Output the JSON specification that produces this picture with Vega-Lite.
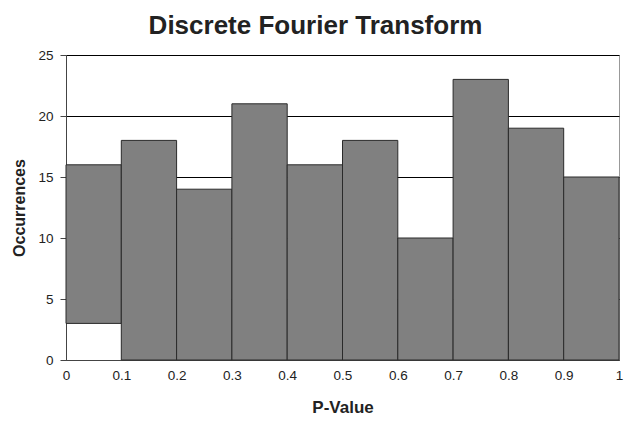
{
  "$schema": "https://vega.github.io/schema/vega-lite/v6.json",
  "width": 553,
  "height": 305,
  "autosize": {"type": "none"},
  "padding": {"left": 66, "top": 55, "right": 10, "bottom": 62},
  "background": "white",
  "title": {
    "text": "Discrete Fourier Transform",
    "font": "Liberation Sans",
    "fontSize": 26,
    "fontWeight": "bold",
    "color": "#222222",
    "anchor": "middle",
    "dx": -27,
    "offset": 9
  },
  "config": {
    "view": {"stroke": "#999999", "strokeWidth": 1},
    "axis": {
      "labelFont": "Liberation Sans",
      "titleFont": "Liberation Sans",
      "labelFontSize": 13.5,
      "labelColor": "#222222",
      "titleColor": "#222222",
      "titleFontWeight": "bold",
      "domainColor": "#444444",
      "tickColor": "#444444"
    }
  },
  "data": {
    "values": [
      {"start": 0.0, "end": 0.1, "base": 3, "count": 16},
      {"start": 0.1, "end": 0.2, "base": 0, "count": 18},
      {"start": 0.2, "end": 0.3, "base": 0, "count": 14},
      {"start": 0.3, "end": 0.4, "base": 0, "count": 21},
      {"start": 0.4, "end": 0.5, "base": 0, "count": 16},
      {"start": 0.5, "end": 0.6, "base": 0, "count": 18},
      {"start": 0.6, "end": 0.7, "base": 0, "count": 10},
      {"start": 0.7, "end": 0.8, "base": 0, "count": 23},
      {"start": 0.8, "end": 0.9, "base": 0, "count": 19},
      {"start": 0.9, "end": 1.0, "base": 0, "count": 15}
    ]
  },
  "mark": {"type": "bar", "fill": "#808080", "stroke": "#2a2a2a", "strokeWidth": 1},
  "encoding": {
    "x": {
      "field": "start",
      "type": "quantitative",
      "scale": {"domain": [0, 1], "nice": false},
      "axis": {
        "title": "P-Value",
        "titleFontSize": 17,
        "values": [0, 0.1, 0.2, 0.3, 0.4, 0.5, 0.6, 0.7, 0.8, 0.9, 1],
        "format": "~g",
        "grid": false,
        "ticks": false,
        "labelPadding": 8,
        "titlePadding": 18,
        "labelFlush": false
      }
    },
    "x2": {"field": "end"},
    "y": {
      "field": "count",
      "type": "quantitative",
      "scale": {"domain": [0, 25], "nice": false},
      "axis": {
        "title": "Occurrences",
        "titleFontSize": 16,
        "values": [0, 5, 10, 15, 20, 25],
        "grid": true,
        "gridColor": "#000000",
        "gridWidth": 1,
        "gridOpacity": 1,
        "tickSize": 6,
        "labelPadding": 7,
        "titlePadding": 10
      }
    },
    "y2": {"field": "base"}
  }
}
